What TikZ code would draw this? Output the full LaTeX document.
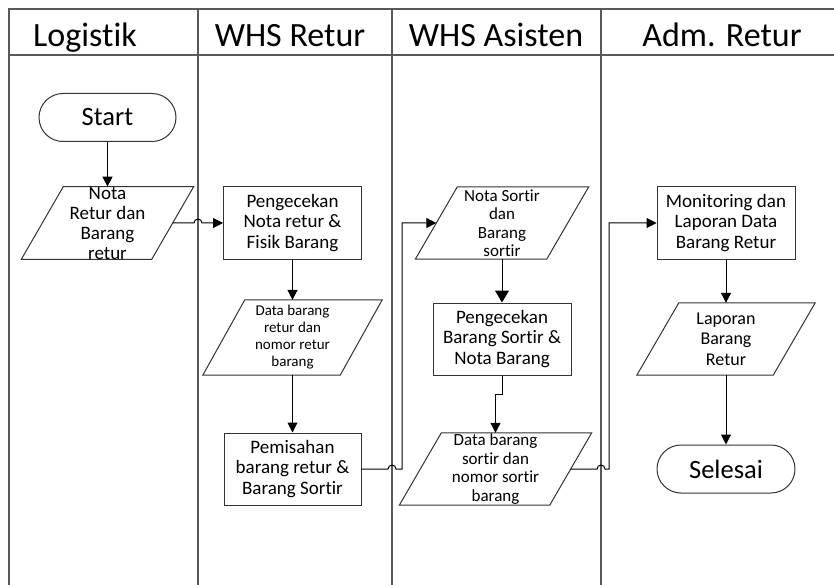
\documentclass[tikz,border=0pt]{standalone}
\usepackage{fontspec}
\setmainfont{Carlito}[Ligatures={NoCommon,NoRare}]
\usetikzlibrary{arrows.meta}
\newcommand{\iopath}[1]{%
  \draw[iobox] ([shift={(-21,0)}]#1.south west) -- ([shift={(-21,0)}]#1.south east)
    -- ([shift={(21,0)}]#1.north east) -- ([shift={(21,0)}]#1.north west) -- cycle;}
\begin{document}
\begin{tikzpicture}[x=1pt,y=-1pt,
  lane/.style={draw=black!65, line width=1.2pt},
  proc/.style={draw=black!80, line width=1pt, rectangle, minimum width=138pt, minimum height=72pt, inner sep=0pt, align=center, font=\fontsize{19}{20.5}\selectfont},
  term/.style={draw=black!80, line width=1pt, rectangle, rounded corners=24pt, minimum width=137pt, minimum height=48pt, inner sep=0pt, font=\fontsize{26.5}{30}\selectfont},
  io/.style={rectangle, minimum height=72pt, inner sep=0pt, align=center},
  iobox/.style={draw=black!80, line width=1pt},
  flow/.style={draw=black, line width=1pt, -{Triangle[length=10pt,width=10pt]}},
  bighead/.style={-{Triangle[length=12pt,width=14pt]}},
  lanehead/.style={font=\fontsize{34}{40}\selectfont, anchor=base}]
\useasboundingbox (0,0) rectangle (834,585);
% swimlanes
\draw[lane] (9,585) -- (9,9) -- (834,9);
\draw[lane] (9,55) -- (834,55);
\draw[lane] (198,9) -- (198,585);
\draw[lane] (392,9) -- (392,585);
\draw[lane] (601,9) -- (601,585);
% headers
\node[lanehead] (h1) at (85,47) {Logistik};
\node[lanehead] (h2) at (290,47) {WHS Retur};
\node[lanehead] (h3) at (496,47) {WHS Asisten};
\node[lanehead] (h4) at (722,47) {Adm. Retur};
% nodes
\node[term] (start) at (107.5,117.5) {Start};
\node[io, minimum width=130pt, font=\fontsize{19}{20}\selectfont] (nr) at (107.5,223) {Nota\\Retur dan\\Barang\\retur};
\iopath{nr}
\node[proc] (p1) at (292.5,223) {Pengecekan\\Nota retur \&\\Fisik Barang};
\node[io, minimum width=137pt, minimum height=75pt, font=\fontsize{15}{17}\selectfont] (dr) at (292.5,337.5) {Data barang\\retur dan\\nomor retur\\barang};
\iopath{dr}
\node[proc, minimum width=137pt] (p2) at (292.5,469) {Pemisahan\\barang retur \&\\Barang Sortir};
\node[io, minimum width=131pt, font=\fontsize{17}{18.5}\selectfont] (ns) at (502,223) {Nota Sortir\\dan\\Barang\\sortir};
\iopath{ns}
\node[proc] (p3) at (502,339) {Pengecekan\\Barang Sortir \&\\Nota Barang};
\node[io, minimum width=150pt, font=\fontsize{17}{18.5}\selectfont] (ds) at (495.5,469) {Data barang\\sortir dan\\nomor sortir\\barang};
\iopath{ds}
\node[proc] (p4) at (726,223) {Monitoring dan\\Laporan Data\\Barang Retur};
\node[io, minimum width=136pt, font=\fontsize{18}{20.5}\selectfont] (lp) at (726,339) {Laporan\\Barang\\Retur};
\iopath{lp}
\node[term, minimum width=138pt] (end) at (726,469) {Selesai};
% connectors
\draw[flow] (start) -- (nr);
\draw[flow] (nr.east) -- (194,223) arc[start angle=180, end angle=0, radius=4pt] -- (p1.west);
\draw[flow] (p1) -- (dr);
\draw[flow] (dr) -- (p2);
\draw[flow] (p2.east) -- (388,469) arc[start angle=180, end angle=0, radius=4pt] -- (402,469) -- (402,223) -- (ns.west);
\draw[flow, bighead] (ns) -- (p3);
\draw[flow] (p3.south) -- (502,394) -- (495.5,394) -- (ds.north);
\draw[flow] (ds.east) -- (597,469) arc[start angle=180, end angle=0, radius=4pt] -- (609,469) -- (609,223) -- (p4.west);
\draw[flow] (p4) -- (lp);
\draw[flow] (lp) -- (end);
\end{tikzpicture}
\end{document}
